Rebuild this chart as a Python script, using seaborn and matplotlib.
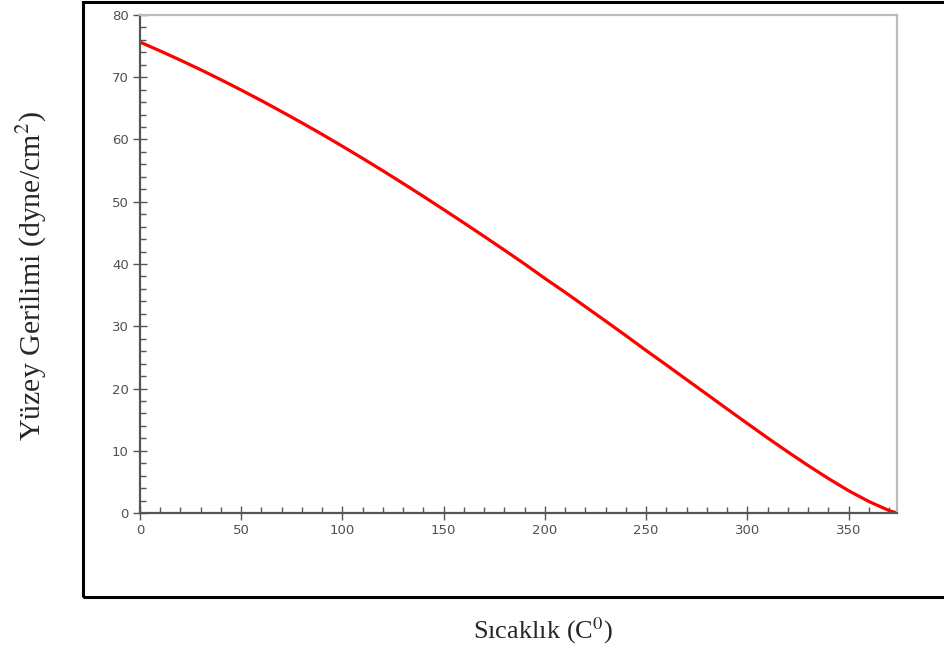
import matplotlib
matplotlib.use("Agg")
import matplotlib.pyplot as plt
from matplotlib.patches import Rectangle
from matplotlib.ticker import MultipleLocator
import seaborn as sns
import pandas as pd

# Data (surface tension of water vs temperature)
temperature = [0, 10, 20, 30, 40, 50, 60, 70, 80, 90, 100, 110, 120, 130, 140, 150,
               160, 170, 180, 190, 200, 210, 220, 230, 240, 250, 260, 270, 280, 290,
               300, 310, 320, 330, 340, 350, 360, 370, 373.9]
surface_tension = [75.65, 74.22, 72.74, 71.20, 69.60, 67.94, 66.24, 64.47, 62.67, 60.82,
                   58.91, 56.96, 54.97, 52.93, 50.86, 48.74, 46.60, 44.43, 42.23, 40.00,
                   37.68, 35.45, 33.14, 30.83, 28.49, 26.10, 23.78, 21.42, 19.07, 16.71,
                   14.37, 12.06, 9.81, 7.63, 5.54, 3.58, 1.85, 0.39, 0.0]
x_ticks = [0, 50, 100, 150, 200, 250, 300, 350]
y_ticks = [0, 10, 20, 30, 40, 50, 60, 70, 80]
x_label = "Sıcaklık (C$^0$)"
y_label = "Yüzey Gerilimi (dyne/cm$^2$)"

df = pd.DataFrame({"T": temperature, "S": surface_tension})

sns.set_style("white")
plt.rcParams["font.family"] = ["DejaVu Sans"]
plt.rcParams["mathtext.fontset"] = "stix"

fig = plt.figure(figsize=(9.44, 6.51), dpi=100)
ax = fig.add_axes([140 / 944, 1 - 513 / 651, (897 - 140) / 944, (513 - 15) / 651])

sns.lineplot(data=df, x="T", y="S", ax=ax, color="#ff0000", linewidth=2.3)

ax.set_xlim(0, 373.9)
ax.set_ylim(0, 80)
ax.set_xticks(x_ticks)
ax.set_yticks(y_ticks)
ax.xaxis.set_minor_locator(MultipleLocator(10))
ax.yaxis.set_minor_locator(MultipleLocator(2))
ax.set_xlabel("")
ax.set_ylabel("")

for side in ["left", "bottom"]:
    ax.spines[side].set_color("#555555")
    ax.spines[side].set_linewidth(1.6)
for side in ["top", "right"]:
    ax.spines[side].set_color("#bbbbbb")
    ax.spines[side].set_linewidth(1.6)

ax.tick_params(which="major", direction="inout", length=10, width=1.0,
               color="#555555", labelsize=9.5, labelcolor="#505050", pad=3,
               left=True, bottom=True)
ax.tick_params(which="minor", direction="in", length=4, width=1.0,
               color="#555555", left=True, bottom=True)

fig.text(32 / 944, 1 - 276 / 651, y_label, rotation=90, ha="center", va="center",
         fontsize=21.5, family=["Liberation Serif"])
fig.text(543 / 944, 1 - 631 / 651, x_label, ha="center", va="center",
         fontsize=19, family=["Liberation Serif"])

frame = Rectangle((83 / 944, 1 - 597 / 651), 1.0, (597 - 2) / 651,
                  transform=fig.transFigure, fill=False, edgecolor="black",
                  linewidth=2.2, clip_on=False)
fig.add_artist(frame)

fig.savefig("out.png", dpi=100, facecolor="white")
